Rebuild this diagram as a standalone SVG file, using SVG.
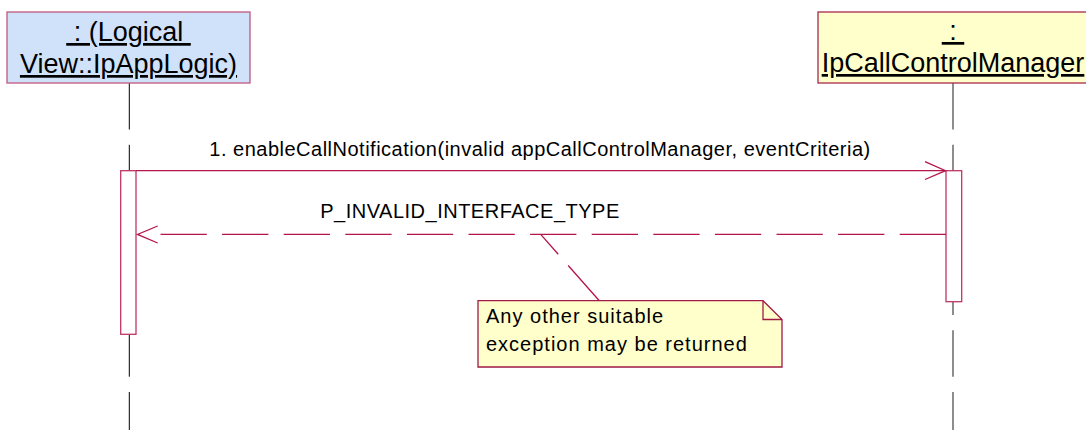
<svg xmlns="http://www.w3.org/2000/svg" width="1086" height="430" viewBox="0 0 1086 430">
  <style>
    .lbl { font-family: "Liberation Sans", Arial, sans-serif; fill: #000; }
    .obj { font-size: 27px; text-decoration: underline; }
    .msg { font-size: 20px; letter-spacing: 0.5px; }
    .note { font-size: 20px; letter-spacing: 1px; }
    .life1 { stroke: #000; stroke-width: 1; stroke-dasharray: 46.5 15.3; fill: none; }
    .life2 { stroke: #7a7a7a; stroke-width: 1.7; stroke-dasharray: 46.5 15.3; fill: none; }
    .act { fill: #fff; stroke: #c03565; stroke-width: 1.3; }
    .arrow { stroke: #b5154a; stroke-width: 1.3; fill: none; }
  </style>
  <rect width="1086" height="430" fill="#fff"/>

  <g id="lifelines">
    <line class="life1" x1="129.3" y1="83" x2="129.3" y2="430"/>
    <line class="life2" x1="953" y1="83" x2="953" y2="430"/>
  </g>

  <g id="obj-appLogic">
    <rect x="7" y="12" width="243" height="71" fill="#cfe2f9" stroke="#c0587e" stroke-width="1.3"/>
    <text class="lbl obj" x="128.5" y="41" text-anchor="middle" xml:space="preserve"> : (Logical </text>
    <text class="lbl obj" x="128.5" y="73" text-anchor="middle">View::IpAppLogic)</text>
  </g>

  <g id="obj-callControlManager">
    <rect x="818" y="12" width="272" height="71" fill="#ffffcc" stroke="#a8284e" stroke-width="1.3"/>
    <text class="lbl obj" x="953" y="40" text-anchor="middle" xml:space="preserve"> : </text>
    <text class="lbl obj" x="953" y="72" text-anchor="middle">IpCallControlManager</text>
  </g>

  <g id="activation-appLogic">
    <rect class="act" x="120.7" y="170.7" width="15.3" height="163.6"/>
  </g>
  <g id="activation-callControlManager">
    <rect class="act" x="946" y="170.7" width="15.7" height="131"/>
  </g>

  <g id="connectors">
    <g id="msg1">
      <line class="arrow" x1="136" y1="170.7" x2="946" y2="170.7"/>
      <polyline class="arrow" points="925,161.7 945.5,170.7 925,179.5"/>
      <text class="lbl msg" x="540" y="156" text-anchor="middle">1. enableCallNotification(invalid appCallControlManager, eventCriteria)</text>
    </g>
    <g id="msg2">
      <line class="arrow" x1="946" y1="234.4" x2="160.5" y2="234.4" stroke-dasharray="46.3 15.3"/>
      <polyline class="arrow" points="157.7,226 137.5,234.4 157.7,243"/>
      <text class="lbl msg" x="470" y="218" text-anchor="middle">P_INVALID_INTERFACE_TYPE</text>
    </g>
    <line id="note-link" class="arrow" x1="599.3" y1="300.7" x2="540.7" y2="234.4" stroke-dasharray="47 15"/>
  </g>

  <g id="note">
    <path d="M478,300.7 H763 L782,319.5 V367 H478 Z" fill="#ffffcc" stroke="#a01a45" stroke-width="1.3"/>
    <path d="M763,300.7 V319.5 H782" fill="none" stroke="#a01a45" stroke-width="1.3"/>
    <text class="lbl note" x="486" y="323">Any other suitable</text>
    <text class="lbl note" x="486" y="351">exception may be returned</text>
  </g>
</svg>
